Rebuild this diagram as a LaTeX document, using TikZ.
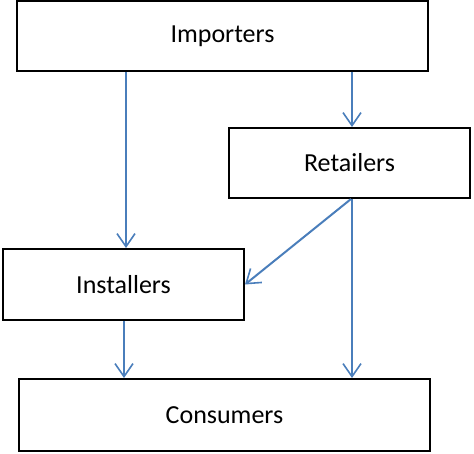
\documentclass[tikz,border=0pt]{standalone}
\usepackage{fontspec}
\setmainfont{Carlito}
\usetikzlibrary{arrows.meta}
\definecolor{arrowblue}{HTML}{4A7EBB}
\begin{document}
\begin{tikzpicture}[x=1pt,y=-1pt,
  box/.style={draw=black,line width=2pt,fill=white,rectangle,inner sep=0pt,font=\fontsize{26}{30}\selectfont},
  flow/.style={draw=arrowblue,line width=2pt,-{Straight Barb[length=13pt,width=18pt,line width=1.6pt]}}]
\useasboundingbox (0,0) rectangle (474,454);
\node[box,minimum width=411pt,minimum height=70pt] (imp) at (222.5,36) {Importers};
\node[box,minimum width=241pt,minimum height=70pt] (ret) at (349.5,163) {Retailers};
\node[box,minimum width=241pt,minimum height=71pt] (ins) at (123.5,284.5) {Installers};
\node[box,minimum width=411pt,minimum height=72pt] (con) at (224.5,415) {Consumers};
\draw[flow] ([xshift=2.5pt]imp.south -| ins.north) -- ([xshift=2.5pt]ins.north);
\draw[flow] ([xshift=2.5pt]imp.south -| ret.north) -- ([xshift=2.5pt]ret.north);
\draw[flow] ([xshift=1.5pt]ret.south) -- (ins.east);
\draw[flow] ([xshift=2.5pt]ret.south) -- ([xshift=2.5pt]ret.south |- con.north);
\draw[flow] ([xshift=0.5pt]ins.south) -- ([xshift=0.5pt]ins.south |- con.north);
\end{tikzpicture}
\end{document}
